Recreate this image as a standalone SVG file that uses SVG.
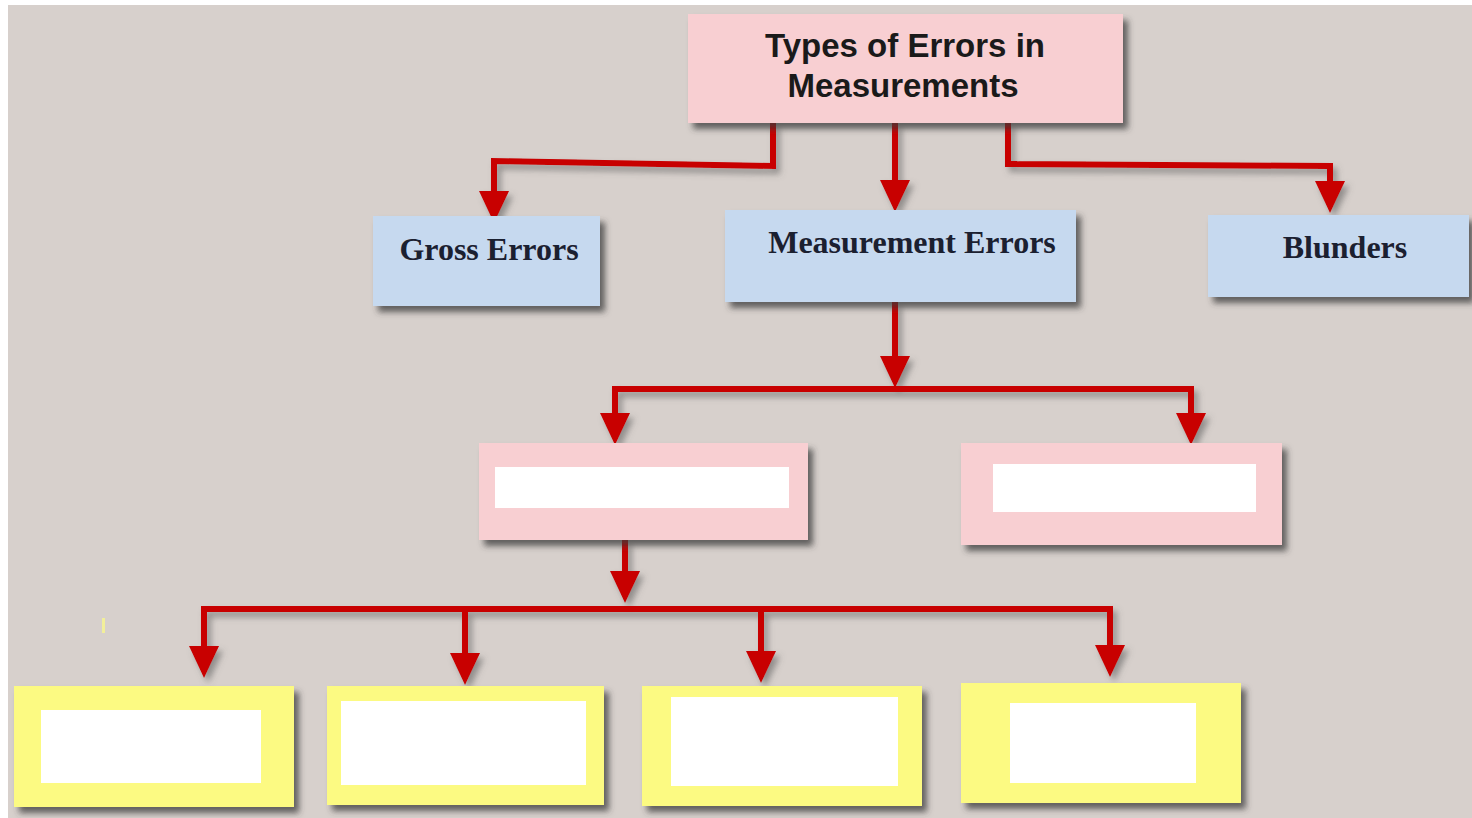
<svg xmlns="http://www.w3.org/2000/svg" width="1472" height="818" viewBox="0 0 1472 818">
<defs>
<filter id="sh" x="-10%" y="-10%" width="125%" height="130%">
<feDropShadow dx="5" dy="6" stdDeviation="3" flood-color="#3a3a3a" flood-opacity="0.75"/>
</filter>
<filter id="lsh" x="-20%" y="-20%" width="150%" height="150%">
<feDropShadow dx="4" dy="5" stdDeviation="3" flood-color="#555" flood-opacity="0.55"/>
</filter>
<marker id="ah" markerUnits="userSpaceOnUse" markerWidth="34" markerHeight="32" refX="22" refY="15" orient="auto">
<path d="M0,0 L32,15 L0,30 Z" fill="#c80000"/>
</marker>
<style>
.pink{fill:#f8cfd2}
.blue{fill:#c6d9ef}
.yel{fill:#fcfa82}
.wh{fill:#ffffff}
.conn{fill:none;stroke:#c80000;stroke-width:6;stroke-linejoin:miter;marker-end:url(#ah)}
.bar{fill:none;stroke:#c80000;stroke-width:6}
.title{font-family:"Liberation Sans",Arial,sans-serif;font-weight:bold;font-size:33px;fill:#1a1a1a;text-anchor:middle}
.lbl{font-family:"Liberation Serif","Times New Roman",serif;font-weight:bold;font-size:32px;fill:#1b2030;text-anchor:middle}
</style>
</defs>
<rect x="0" y="0" width="1472" height="818" fill="#ffffff"/>
<rect x="8" y="5" width="1464" height="813" fill="#d7d0cc"/>
<rect x="102" y="618" width="3" height="15" fill="#f2ef9a"/>

<g id="connectors" filter="url(#lsh)">
<path class="conn" d="M773,123 L773,166 L494,161 L494,213"/>
<path class="conn" d="M895,123 L895,202"/>
<path class="conn" d="M1008,123 L1008,164 L1330,166 L1330,203"/>
<path class="conn" d="M895,302 L895,378"/>
<path class="conn" d="M895,389 L615,389 L615,435"/>
<path class="conn" d="M895,389 L1191,389 L1191,435"/>
<path class="conn" d="M625,540 L625,593"/>
<path class="conn" d="M625,609 L204,609 L204,668"/>
<path class="conn" d="M625,609 L1110,609 L1110,667"/>
<path class="conn" d="M465,609 L465,675"/>
<path class="conn" d="M761,609 L761,673"/>
</g>

<g id="root">
<rect class="pink" x="688" y="14" width="435" height="109" filter="url(#sh)"/>
<text class="title" x="905" y="57">Types of Errors in</text>
<text class="title" x="903" y="97">Measurements</text>
</g>

<g id="gross">
<rect class="blue" x="373" y="216" width="227" height="90" filter="url(#sh)"/>
<text class="lbl" x="489" y="260" font-size="31">Gross Errors</text>
</g>

<g id="measurement">
<rect class="blue" x="725" y="210" width="351" height="92" filter="url(#sh)"/>
<text class="lbl" x="912" y="253">Measurement Errors</text>
</g>

<g id="blunders">
<rect class="blue" x="1208" y="215" width="261" height="82" filter="url(#sh)"/>
<text class="lbl" x="1345" y="258">Blunders</text>
</g>

<g id="sub1">
<rect class="pink" x="479" y="443" width="329" height="97" filter="url(#sh)"/>
<rect class="wh" x="495" y="467" width="294" height="41"/>
</g>

<g id="sub2">
<rect class="pink" x="961" y="443" width="321" height="102" filter="url(#sh)"/>
<rect class="wh" x="993" y="464" width="263" height="48"/>
</g>

<g id="leaf1">
<rect class="yel" x="14" y="686" width="280" height="121" filter="url(#sh)"/>
<rect class="wh" x="41" y="710" width="220" height="73"/>
</g>

<g id="leaf2">
<rect class="yel" x="327" y="686" width="277" height="119" filter="url(#sh)"/>
<rect class="wh" x="341" y="701" width="245" height="84"/>
</g>

<g id="leaf3">
<rect class="yel" x="642" y="686" width="280" height="120" filter="url(#sh)"/>
<rect class="wh" x="671" y="697" width="227" height="89"/>
</g>

<g id="leaf4">
<rect class="yel" x="961" y="683" width="280" height="120" filter="url(#sh)"/>
<rect class="wh" x="1010" y="703" width="186" height="80"/>
</g>
</svg>
